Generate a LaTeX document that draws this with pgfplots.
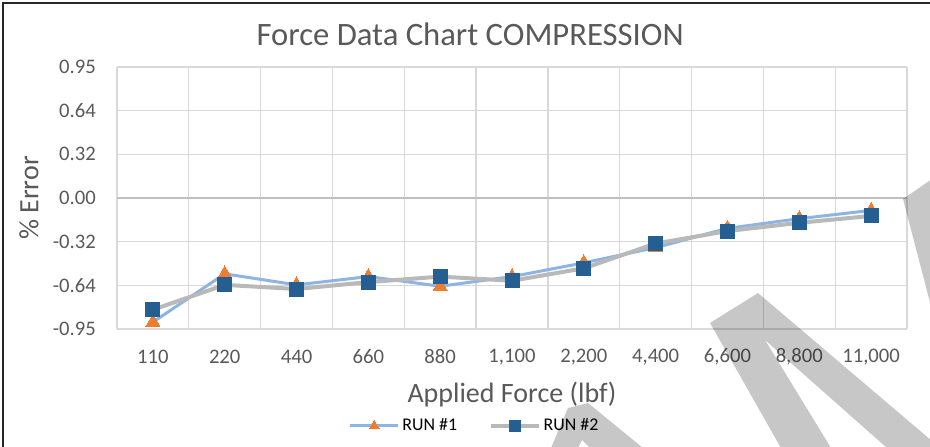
\documentclass[border=0pt]{standalone}
\usepackage{fontspec}
\setmainfont{Carlito}
\usepackage{pgfplots}
\pgfplotsset{compat=1.18}
\definecolor{runblue}{HTML}{8EB4E3}
\definecolor{runorange}{HTML}{ED7D31}
\definecolor{rungray}{HTML}{B9B9B9}
\definecolor{sqblue}{HTML}{255E91}
\definecolor{txtgray}{HTML}{595959}
\definecolor{gridgray}{HTML}{D9D9D9}
\definecolor{zerogray}{HTML}{BFBFBF}
\begin{document}
\begin{tikzpicture}
\useasboundingbox (0,0) rectangle (697.5pt,334.5pt);
\clip (0,0) rectangle (697.5pt,334.5pt);
\begin{axis}[
  at={(87.75pt,87.75pt)}, anchor=south west,
  scale only axis, width=592.5pt, height=196.5pt,
  xmin=-0.5, xmax=10.5, ymin=-0.95, ymax=0.95,
  xtick={0,...,10},
  xticklabels={110,220,440,660,880,{1,100},{2,200},{4,400},{6,600},{8,800},{11,000}},
  minor xtick={-0.5,0.5,...,10.5},
  xminorgrids, ymajorgrids,
  ytick={-0.95,-0.633333,-0.316667,0,0.316667,0.633333,0.95},
  yticklabels={-0.95,-0.64,-0.32,0.00,0.32,0.64,0.95},
  major tick length=0pt, minor tick length=0pt,
  axis line style={draw=none},
  major grid style={draw=gridgray, line width=1pt},
  minor grid style={draw=gridgray, line width=1pt},
  tick label style={font=\fontsize{15.5}{18}\selectfont, text=txtgray},
  xticklabel style={anchor=center, yshift=-21pt},
  yticklabel style={anchor=east, inner sep=0pt, xshift=-15.75pt},
  title={Force Data Chart COMPRESSION},
  title style={at={(axis description cs:0.447,1.0954)}, anchor=center,
    font=\fontsize{24.5}{29}\selectfont, text=txtgray, inner sep=0pt},
  xlabel={Applied Force (lbf)},
  xlabel style={at={(axis description cs:0.5,-0.2519)}, anchor=center,
    font=\fontsize{21}{25}\selectfont, text=txtgray, inner sep=0pt},
  ylabel={\% Error},
  ylabel style={at={(axis description cs:-0.1114,0.5)}, anchor=center,
    font=\fontsize{21}{25}\selectfont, text=txtgray, inner sep=0pt},
  legend style={at={(axis description cs:0.453,-0.370)}, anchor=center,
    draw=none, fill=none, font=\fontsize{13.4}{16}\selectfont,
    /tikz/every even column/.append style={column sep=22pt}},
  legend columns=2,
  legend cell align=left,
  legend image code/.code={\draw[mark repeat=2,mark phase=2,#1,mark size=4.2pt] plot coordinates {(0pt,0pt) (18pt,0pt) (36pt,0pt)};},
]
\draw[zerogray, line width=1.2pt] (axis cs:-0.5,0) -- (axis cs:10.5,0);
\addplot[color=runblue, line width=2.25pt, mark=triangle*,
  mark size=6pt, mark options={fill=runorange, draw=runorange, line width=0pt}]
  coordinates {(0,-0.90) (1,-0.55) (2,-0.63) (3,-0.57) (4,-0.64) (5,-0.57)
               (6,-0.47) (7,-0.36) (8,-0.22) (9,-0.15) (10,-0.09)};
\addlegendentry{RUN \#1}
\addplot[color=rungray, line width=3pt, mark=square*,
  mark size=5.25pt, mark options={fill=sqblue, draw=sqblue, line width=0pt}]
  coordinates {(0,-0.81) (1,-0.63) (2,-0.66) (3,-0.61) (4,-0.57) (5,-0.60)
               (6,-0.51) (7,-0.33) (8,-0.24) (9,-0.18) (10,-0.13)};
\addlegendentry{RUN \#2}
\end{axis}
% watermark
\begin{scope}[x=0.75pt, y=-0.75pt, yshift=334.5pt]
  \fill[black, opacity=0.22] (710,323) -- (758,293) -- (932,441) -- (932,448)
     -- (887,448) -- (765,340) -- (831,448) -- (781,448) -- cycle;
  \fill[black, opacity=0.22] (568,408) -- (588,403) -- (643,448) -- (590,448)
     -- (582,440) -- (578,448) -- (551,448) -- cycle;
  \fill[black, opacity=0.22] (903,199) -- (932,179) -- (932,310) -- cycle;
  \draw[black!85, line width=1.5pt] (3,448) -- (3,3) -- (932,3);
\end{scope}
\end{tikzpicture}
\end{document}
